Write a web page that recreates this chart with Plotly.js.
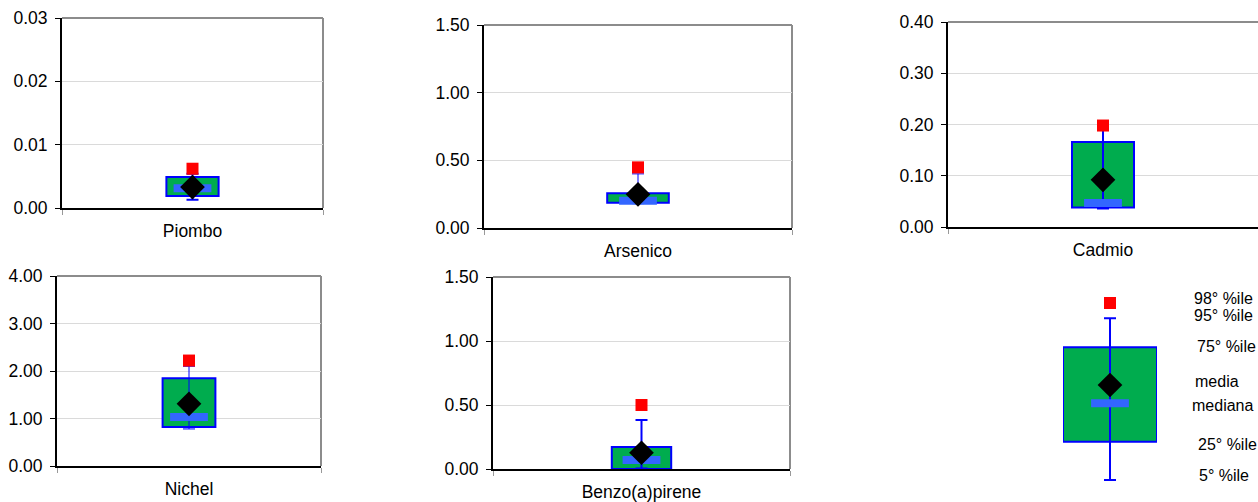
<!DOCTYPE html>
<html>
<head>
<meta charset="utf-8">
<script src="https://cdn.plot.ly/plotly-3.0.1.min.js"></script>
<style>html,body{margin:0;padding:0;background:#fff;}#chart{width:1258px;height:502px;}</style>
</head>
<body>
<div id="chart"></div>
<script>
// ---- data ----
const categories = ['Piombo', 'Arsenico', 'Cadmio', 'Nichel', 'Benzo(a)pirene'];
const p5     = [0.0013, 0.18,  0.036, 0.78, 0.003];
const p25    = [0.0019, 0.187, 0.038, 0.82, 0.0];
const median = [0.0031, 0.202, 0.047, 1.03, 0.07];
const mean   = [0.0033, 0.249, 0.092, 1.31, 0.127];
const p75    = [0.0049, 0.256, 0.166, 1.85, 0.172];
const p95    = [0.0054, 0.40,  0.19,  2.10, 0.383];
const p98    = [0.0062, 0.448, 0.198, 2.22, 0.50];
const yMax   = [0.03, 1.5, 0.4, 4, 1.5];
const yStep  = [0.01, 0.5, 0.1, 1, 0.5];

// legend sample box (arbitrary scale 0-10)
const legendCategory = ['legenda'];
const legendP5 = 0.5, legendP25 = 2.415, legendMedian = 4.335, legendMean = 5.25;
const legendP75 = 7.135, legendP95 = 8.585, legendP98 = 9.35;
const legendLabels = ['98° %ile', '95° %ile', '75° %ile', 'media', 'mediana', '25° %ile', '5° %ile'];

// ---- layout geometry (pixels) ----
const W = 1258, H = 502;
const panels = [
  {x0: 62,  x1: 323,  y0: 18,  y1: 208, right: true},
  {x0: 484, x1: 792,  y0: 25,  y1: 228, right: true},
  {x0: 948, x1: 1258, y0: 22,  y1: 227, right: false},
  {x0: 57,  x1: 321,  y0: 276, y1: 466, right: true},
  {x0: 493, x1: 790,  y0: 277, y1: 469, right: true}
];
const legendLabelPos = [
  [1192, 298], [1192, 315], [1195, 346], [1193, 381], [1190, 405], [1196, 444], [1197, 475]
];

const GREEN = '#00AC4E', BLUE = '#0000FF', MEDBLUE = '#3366FF', RED = '#FF0000';
const FONT = 'Liberation Sans, Arial, sans-serif';
const BOXW = 0.2;

const traces = [];
const layout = {
  width: W, height: H,
  margin: {l: 0, r: 0, t: 0, b: 0},
  paper_bgcolor: '#fff', plot_bgcolor: '#fff',
  showlegend: false,
  font: {family: FONT, size: 17.5, color: '#000'},
  shapes: [], annotations: []
};

function addBox(xa, ya, cat, v5, v25, vmed, vmean, v75, v95, v98, whiskerW) {
  traces.push({type: 'bar', x: [cat], base: [v25], y: [v75 - v25], width: [BOXW],
    xaxis: xa, yaxis: ya, marker: {color: GREEN, line: {color: BLUE, width: 2}}, hoverinfo: 'skip'});
  traces.push({type: 'scatter', mode: 'markers', x: [cat], y: [v5], xaxis: xa, yaxis: ya,
    marker: {size: 1, color: 'rgba(0,0,0,0)'}, hoverinfo: 'skip',
    error_y: {type: 'data', symmetric: false, array: [v95 - v5], arrayminus: [0],
      color: BLUE, thickness: whiskerW, width: 6}});
  traces.push({type: 'scatter', mode: 'markers', x: [cat], y: [vmed], xaxis: xa, yaxis: ya,
    marker: {symbol: 'line-ew', size: 27, color: MEDBLUE, line: {color: MEDBLUE, width: 8}}, hoverinfo: 'skip'});
  traces.push({type: 'scatter', mode: 'markers', x: [cat], y: [vmean], xaxis: xa, yaxis: ya,
    marker: {symbol: 'diamond', size: 19, color: '#000', line: {width: 0}}, hoverinfo: 'skip'});
  traces.push({type: 'scatter', mode: 'markers', x: [cat], y: [v98], xaxis: xa, yaxis: ya,
    marker: {symbol: 'square', size: 12, color: RED, line: {width: 0}}, hoverinfo: 'skip'});
}

const whiskerWidths = [2, 1, 2, 1, 2];
categories.forEach((cat, i) => {
  const n = i + 1;
  const xa = n === 1 ? 'x' : 'x' + n;
  const ya = n === 1 ? 'y' : 'y' + n;
  const p = panels[i];
  addBox(xa, ya, cat, p5[i], p25[i], median[i], mean[i], p75[i], p95[i], p98[i], whiskerWidths[i]);
  layout['xaxis' + (n === 1 ? '' : n)] = {
    domain: [p.x0 / W, Math.min(1, p.x1 / W)], anchor: ya,
    type: 'category', range: [-0.5, 0.5], fixedrange: true,
    showline: true, linecolor: '#000', linewidth: 2,
    ticks: 'outside', tickson: 'boundaries', ticklen: 5, tickcolor: '#999', tickwidth: 1,
    showgrid: false, zeroline: false, tickfont: {size: 17.5}, ticklabelstandoff: 6
  };
  layout['yaxis' + (n === 1 ? '' : n)] = {
    domain: [1 - p.y1 / H, 1 - p.y0 / H], anchor: xa,
    range: [0, yMax[i]], dtick: yStep[i], tick0: 0, tickformat: '.2f', fixedrange: true,
    showline: true, linecolor: '#000', linewidth: 2,
    ticks: 'outside', ticklen: 5, tickcolor: '#000', tickwidth: 1,
    showgrid: true, gridcolor: '#dadada', gridwidth: 1, zeroline: false,
    tickfont: {size: 17.5}, ticklabelstandoff: 4
  };
  const xd = xa + ' domain', yd = ya + ' domain';
  layout.shapes.push({type: 'line', xref: xd, yref: yd, x0: 0, x1: 1, y0: 1, y1: 1,
    line: {color: '#8c8c8c', width: 2}, layer: 'below'});
  if (p.right) {
    layout.shapes.push({type: 'line', xref: xd, yref: yd, x0: 1, x1: 1, y0: 0, y1: 1,
      line: {color: '#8c8c8c', width: 2}, layer: 'below'});
  }
});

// legend panel
addBox('x6', 'y6', legendCategory[0], legendP5, legendP25, legendMedian, legendMean,
  legendP75, legendP95, legendP98, 2);
layout.xaxis6 = {domain: [1063 / W, 1157 / W], anchor: 'y6', type: 'category',
  range: [-0.1, 0.1], visible: false, fixedrange: true};
layout.yaxis6 = {domain: [1 - 490 / H, 1 - 290 / H], anchor: 'x6', range: [0, 10],
  visible: false, fixedrange: true};
legendLabels.forEach((t, i) => {
  layout.annotations.push({text: t, xref: 'paper', yref: 'paper',
    x: legendLabelPos[i][0] / W, y: 1 - legendLabelPos[i][1] / H,
    xanchor: 'left', yanchor: 'middle', showarrow: false,
    font: {family: FONT, size: 16, color: '#000'}});
});

Plotly.newPlot('chart', traces, layout, {staticPlot: true, displayModeBar: false});
</script>
</body>
</html>
